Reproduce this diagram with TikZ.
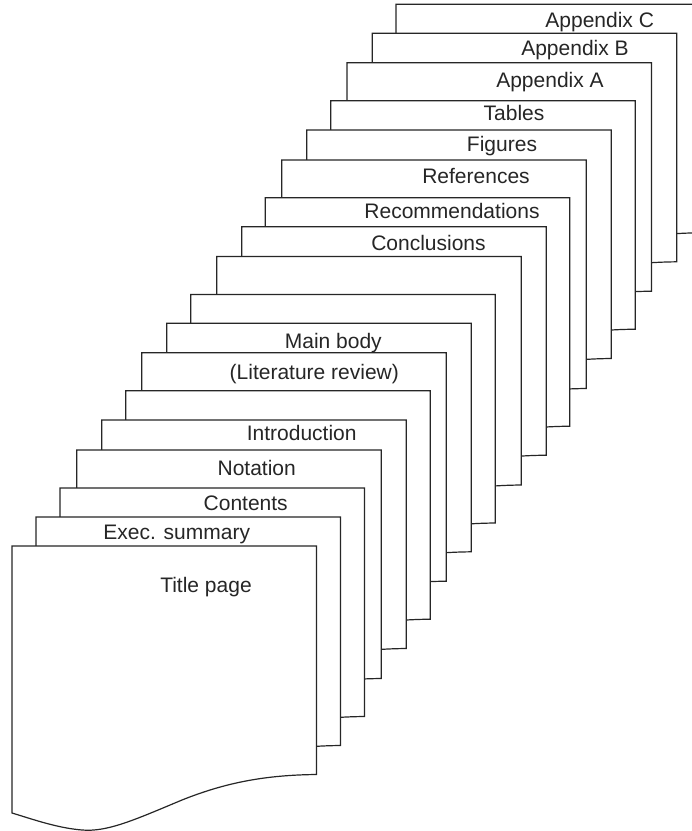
\documentclass[tikz,border=0pt]{standalone}
\usepackage{fontspec}
\setmainfont{Liberation Sans}
\usepackage{xcolor}
\definecolor{ink}{HTML}{262626}

\begin{document}
\begin{tikzpicture}[x=1pt,y=-1pt,
  sheet/.style={draw=ink,line width=1.2pt,fill=white},
  tag/.style={anchor=base,inner sep=0pt,text=ink,font=\fontsize{21}{25}\selectfont}]
  \clip (0,0) rectangle (692,831);
  % sheets, back to front
  \foreach \n/\l/\t in {18/396/4.3, 17/372.3/33.3, 16/347/62.7, 15/330.7/100.7,
      14/306.7/130, 13/281.7/160, 12/265.3/197.7, 11/241.7/226.7, 10/216.7/256.5,
      9/190.7/294.5, 8/166.7/323.3, 7/141.7/352.7, 6/125.7/390.7, 5/101.7/420,
      4/76.7/450, 3/60/488, 2/36/517, 1/12/546}
    \draw[sheet,shift={(\l,\t)}] (0,0) -- (304.5,0) -- (304.5,228.5)
      .. controls (255,229) and (215,236) .. (170,254)
      .. controls (120,275) and (95,286) .. (70,284)
      .. controls (45,282) and (20,273) .. (0,267) -- cycle;

  \node[tag] (title) at (206,592.7) {Title page};
  \node[tag] (exec) at (176.7,539.3) {Exec. summary};
  \node[tag] (cont) at (245.7,510) {Contents};
  \node[tag] (nota) at (256.7,475) {Notation};
  \node[tag] (intro) at (301.7,440) {Introduction};
  \node[tag] (lit) at (314.3,379) {(Literature review)};
  \node[tag] (main) at (333.3,348.3) {Main body};
  \node[tag] (conc) at (428.5,250) {Conclusions};
  \node[tag] (recs) at (452,218.3) {Recommendations};
  \node[tag] (refs) at (476,183.3) {References};
  \node[tag] (figs) at (502,151.7) {Figures};
  \node[tag] (tabs) at (514,120.7) {Tables};
  \node[tag] (appa) at (550,87.3) {Appendix A};
  \node[tag] (appb) at (575,55) {Appendix B};
  \node[tag] (appc) at (599.7,27.3) {Appendix C};
\end{tikzpicture}
\end{document}
